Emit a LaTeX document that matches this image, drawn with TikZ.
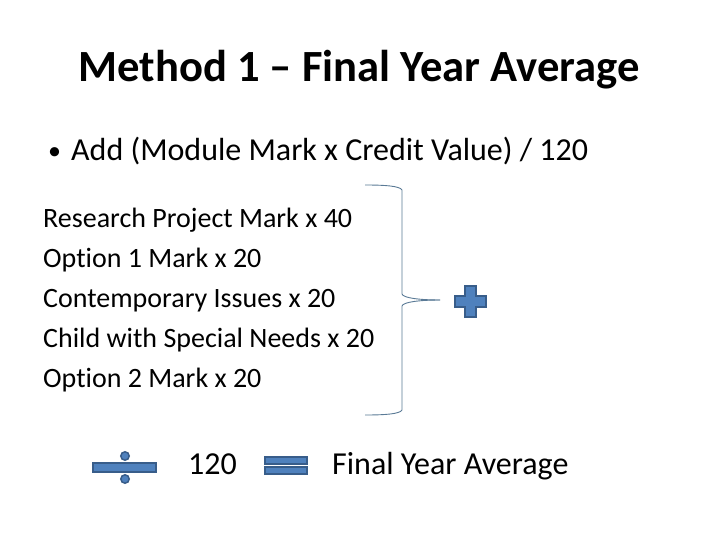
\documentclass[tikz,border=0pt]{standalone}
\usepackage{fontspec}
\setmainfont{Carlito}[Ligatures={NoCommon}]
\definecolor{shapefill}{HTML}{4F81BD}
\definecolor{shapeline}{HTML}{385D8A}
\definecolor{braceline}{HTML}{5A7A96}
\begin{document}
\begin{tikzpicture}[x=1pt,y=-1pt,
  txt/.style={inner sep=0pt,anchor=base west},
  sym/.style={fill=shapefill,draw=shapeline,line width=1.5pt},
  brace/.style={draw=braceline,line width=0.9pt}]
\useasboundingbox (0,0) rectangle (720,540);
\fill[white] (0,0) rectangle (720,540);
\node[inner sep=0pt,anchor=base] (title) at (359,82) {\fontsize{44.6}{52}\selectfont\bfseries Method 1 -- Final Year Average};
\node[txt] (bullet) at (48,160) {\fontsize{26}{30}\selectfont •};
\node[txt] (add) at (71,161) {\fontsize{32}{38}\selectfont Add (Module Mark x Credit Value) / 120};
\node[txt] (l1) at (43,227) {\fontsize{28}{33}\selectfont Research Project Mark x 40};
\node[txt] (l2) at (43,267) {\fontsize{28}{33}\selectfont Option 1 Mark x 20};
\node[txt] (l3) at (43,307) {\fontsize{28}{33}\selectfont Contemporary Issues x 20};
\node[txt] (l4) at (43,347) {\fontsize{28}{33}\selectfont Child with Special Needs x 20};
\node[txt] (l5) at (43,387) {\fontsize{28}{33}\selectfont Option 2 Mark x 20};
% brace
\draw[brace] (365,185) .. controls (385,185) and (400,186) .. (402,190)
  -- (402,294) .. controls (403,298) and (420,300) .. (440,300);
\draw[brace] (440,300) .. controls (420,300) and (403,302) .. (402,306)
  -- (402,410) .. controls (400,414) and (385,415) .. (365,415);
% plus
\draw[sym] (465,286) -- (476,286) -- (476,296) -- (486,296) -- (486,307) -- (476,307) -- (476,317) -- (465,317) -- (465,307) -- (455,307) -- (455,296) -- (465,296) -- cycle;
% divide
\draw[sym] (93,463) rectangle (156,472);
\draw[sym] (125,456) circle (4.2);
\draw[sym] (125,479) circle (4.2);
% equals
\draw[sym] (265,457) rectangle (307,464);
\draw[sym] (265,467) rectangle (307,474);
\node[txt] (n120) at (188,474) {\fontsize{32}{38}\selectfont 120};
\node[txt] (fya) at (332,474) {\fontsize{32}{38}\selectfont Final Year Average};
\end{tikzpicture}
\end{document}
